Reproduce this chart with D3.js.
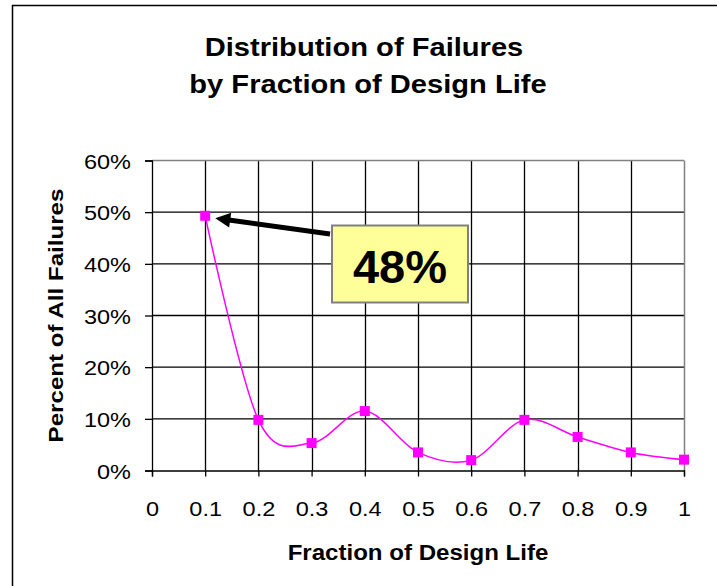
<!DOCTYPE html>
<html><head><meta charset="utf-8">
<script src="https://cdn.jsdelivr.net/npm/d3@7"></script>
<style>body{margin:0;background:#fff}svg{display:block;font-family:"Liberation Sans",Arial,sans-serif}</style>
</head><body><svg id="c" width="717" height="586"></svg>
<script>
const fractions = [0.1,0.2,0.3,0.4,0.5,0.6,0.7,0.8,0.9,1.0];
const percents = [0.493,0.098,0.053,0.115,0.035,0.02,0.098,0.065,0.035,0.021];
const xTicks = [0,0.1,0.2,0.3,0.4,0.5,0.6,0.7,0.8,0.9,1];
const yTicks = [0,0.1,0.2,0.3,0.4,0.5,0.6];
const titleLines = ["Distribution of Failures","by Fraction of Design Life"];
const annotation = {label:"48%", x:0.1, y:0.493};

const SX = 1.12; // horizontal widening of rendered text
const svg = d3.select("#c");
svg.append("rect").attr("x",12.5).attr("y",5.5).attr("width",720).attr("height",600)
  .attr("fill","#fff").attr("stroke","#000").attr("stroke-width",1.5);

const L=152, R=684, T=160.5, B=470.5;
const x = d3.scaleLinear().domain([0,1]).range([L,R]);
const y = d3.scaleLinear().domain([0,0.6]).range([B,T]);

// gridlines
const g = svg.append("g");
g.selectAll("line.v").data(xTicks.slice(1,-1)).join("line")
  .attr("x1",d=>Math.round(x(d))+0.5).attr("x2",d=>Math.round(x(d))+0.5).attr("y1",T).attr("y2",B)
  .attr("stroke","#000").attr("stroke-width",1.3);
g.selectAll("line.h").data(yTicks.slice(1,-1)).join("line")
  .attr("y1",d=>y(d)).attr("y2",d=>y(d)).attr("x1",L).attr("x2",R)
  .attr("stroke","#000").attr("stroke-width",1.3);
svg.append("line").attr("x1",L).attr("x2",R).attr("y1",T).attr("y2",T).attr("stroke","#808080").attr("stroke-width",1.5);
svg.append("line").attr("x1",R+0.5).attr("x2",R+0.5).attr("y1",T).attr("y2",B).attr("stroke","#808080").attr("stroke-width",1.5);

// axes
const xAxis = d3.axisBottom(x).tickValues(xTicks).tickSize(6).tickFormat(d3.format("~g"));
const yAxis = d3.axisLeft(y).tickValues(yTicks).tickSize(7).tickFormat(d3.format(".0%"));
const gx = svg.append("g").attr("transform",`translate(0,${B})`).call(xAxis);
const gy = svg.append("g").attr("transform",`translate(${L},0)`).call(yAxis);
[gx,gy].forEach(a=>{
  a.select(".domain").attr("stroke","#000").attr("stroke-width",1.3);
  a.selectAll(".tick line").attr("stroke","#000").attr("stroke-width",1.3);
  a.selectAll("text").attr("font-size",21).attr("fill","#000").attr("font-family","Liberation Sans, Arial, sans-serif");
});
gx.selectAll("text").attr("y",45.5).attr("dy",0).attr("transform",`scale(${SX},1)`);
gy.selectAll("text").attr("x",-21/SX).attr("dy","0.36em").attr("transform",`scale(${SX},1)`);

// line
const line = d3.line().x((d,i)=>x(fractions[i])).y(d=>y(d)).curve(d3.curveCatmullRom.alpha(0));
svg.append("path").datum(percents).attr("d",line).attr("fill","none").attr("stroke","#FF00FF").attr("stroke-width",1.5);
svg.selectAll("rect.m").data(percents).join("rect")
  .attr("x",(d,i)=>x(fractions[i])-5).attr("y",d=>y(d)-5).attr("width",10).attr("height",10)
  .attr("fill","#FF00FF");

// titles
const titleX = [364,368];
svg.selectAll("text.t").data(titleLines).join("text")
  .attr("transform",(d,i)=>`translate(${titleX[i]},${56+i*37}) scale(${SX},1)`).attr("text-anchor","middle")
  .attr("font-size",26).attr("font-weight","bold").text(d=>d);
svg.append("text").attr("transform",`translate(418,560) scale(${SX},1)`).attr("text-anchor","middle")
  .attr("font-size",21.5).attr("font-weight","bold").text("Fraction of Design Life");
svg.append("text").attr("transform",`translate(63,${(T+B)/2}) rotate(-90) scale(1.15,1)`).attr("text-anchor","middle")
  .attr("font-size",21).attr("font-weight","bold").text("Percent of All Failures");

// annotation arrow
svg.append("defs").append("marker").attr("id","ah").attr("viewBox","0 0 10 10")
  .attr("refX",2).attr("refY",5).attr("markerWidth",3.6).attr("markerHeight",3).attr("orient","auto")
  .attr("markerUnits","strokeWidth")
  .append("path").attr("d","M0,0 L10,5 L0,10 z").attr("fill","#000");
const ax = x(annotation.x)+14, ay = y(annotation.y)+3;
svg.append("line").attr("x1",330).attr("y1",234).attr("x2",ax+8).attr("y2",ay+1)
  .attr("stroke","#000").attr("stroke-width",5).attr("marker-end","url(#ah)");
svg.append("rect").attr("x",332).attr("y",225.5).attr("width",136).attr("height",77)
  .attr("fill","#FFFF99").attr("stroke","#808080").attr("stroke-width",2);
svg.append("text").attr("x",400).attr("y",283).attr("text-anchor","middle")
  .attr("font-size",47).attr("font-weight","bold").text(annotation.label);
</script></body></html>
